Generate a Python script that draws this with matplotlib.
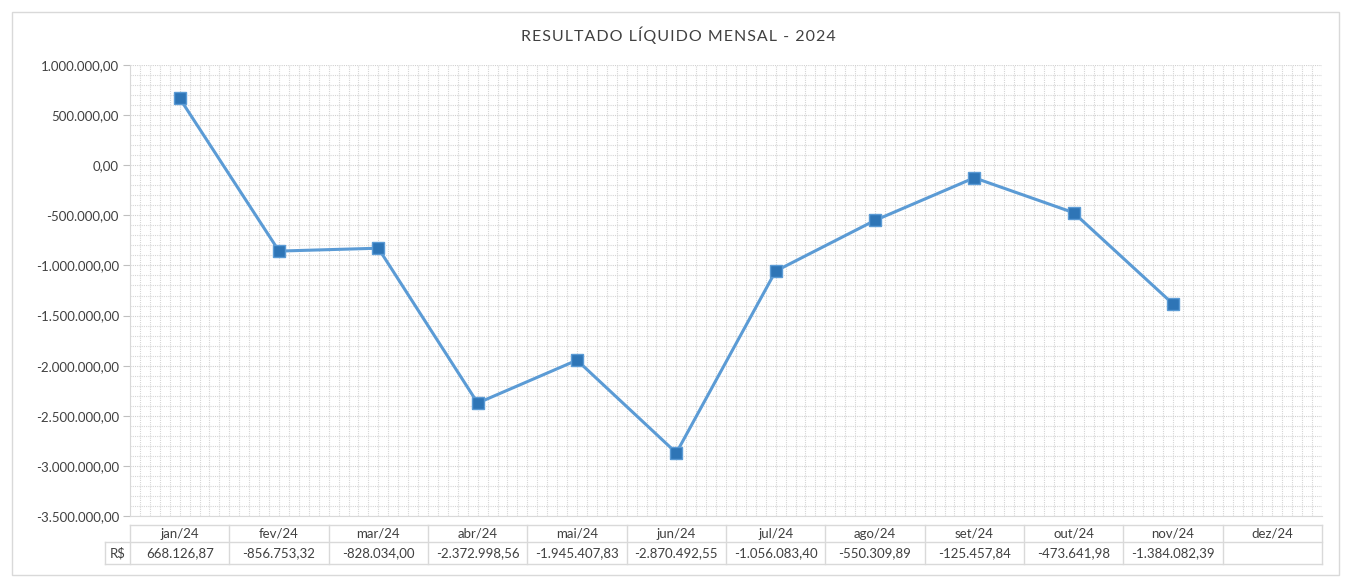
import matplotlib
matplotlib.use("Agg")
import matplotlib.pyplot as plt
import numpy as np
from matplotlib.ticker import FuncFormatter, MultipleLocator
from matplotlib.patches import Rectangle

months = ["jan/24", "fev/24", "mar/24", "abr/24", "mai/24", "jun/24",
          "jul/24", "ago/24", "set/24", "out/24", "nov/24", "dez/24"]
values = [668126.87, -856753.32, -828034.00, -2372998.56, -1945407.83, -2870492.55,
          -1056083.40, -550309.89, -125457.84, -473641.98, -1384082.39, None]
row_label = "R$"
title = "RESULTADO LÍQUIDO MENSAL - 2024"

FONT = ["Lato", "DejaVu Sans"]
plt.rcParams["font.family"] = FONT

def br(v, dec=2):
    s = f"{abs(v):,.{dec}f}"
    s = s.replace(",", "X").replace(".", ",").replace("X", ".")
    return ("-" if v < 0 else "") + s

W, H = 1349, 581
fig = plt.figure(figsize=(W / 100, H / 100), dpi=100)
fig.patch.set_facecolor("white")

# outer border
fig.add_artist(Rectangle((12 / W, 1 - 575 / H), (1339 - 12) / W, (575 - 12) / H,
                         transform=fig.transFigure, fill=False, edgecolor="#D9D9D9", lw=1))

left, right, top, bottom = 130, 1322, 65, 516
ax = fig.add_axes([left / W, 1 - bottom / H, (right - left) / W, (bottom - top) / H])

xs = [i for i, v in enumerate(values) if v is not None]
ys = [v for v in values if v is not None]
ax.plot(xs, ys, color="#5B9BD5", lw=2.2, zorder=3, solid_capstyle="round")
ax.plot(xs, ys, ls="none", marker="s", ms=8, mfc="#2E75B6", mec="#5B9BD5", mew=1.0, zorder=4)

ax.set_xlim(-0.5, len(months) - 0.5)
ax.set_ylim(-3500000, 1000000)
ax.yaxis.set_major_locator(MultipleLocator(500000))
ax.yaxis.set_minor_locator(MultipleLocator(100000))
ax.yaxis.set_major_formatter(FuncFormatter(lambda v, p: br(v)))
ax.set_xticks([])
ax.xaxis.set_minor_locator(MultipleLocator(0.1))

ax.grid(which="major", axis="y", color="#D0D0D0", lw=0.8, ls=(0, (1, 1)))
ax.grid(which="minor", axis="both", color="#D6D6D6", lw=0.8, ls=(0, (1, 1)))
ax.tick_params(axis="y", which="major", length=5, color="#BFBFBF", labelsize=9.5,
               labelcolor="#404040", pad=3)
ax.tick_params(axis="both", which="minor", length=0)
for s in ["top", "right"]:
    ax.spines[s].set_visible(False)
ax.spines["left"].set_color("#D9D9D9")
ax.spines["bottom"].set_color("#D9D9D9")
ax.set_axisbelow(True)

fig.text(678 / W, 1 - 35 / H, "\u200a".join(title), ha="center", va="center",
         fontsize=11.5, color="#404040", family=FONT)

# data table
def fx(px):
    return px / W
def fy(py):
    return 1 - py / H

cell_w = (right - left) / len(months)
t0, t1, t2 = 525, 542, 564
lc = "#D9D9D9"
def hline(y, x0, x1):
    fig.add_artist(plt.Line2D([fx(x0), fx(x1)], [fy(y), fy(y)], color=lc, lw=1,
                              transform=fig.transFigure))
def vline(xp, y0, y1):
    fig.add_artist(plt.Line2D([fx(xp), fx(xp)], [fy(y0), fy(y1)], color=lc, lw=1,
                              transform=fig.transFigure))
hline(t0, left, right)
hline(t1, 105, right)
hline(t2, 105, right)
vline(105, t1, t2)
for i in range(len(months) + 1):
    vline(left + i * cell_w, t0, t2)
for i, (m, v) in enumerate(zip(months, values)):
    cx = left + (i + 0.5) * cell_w
    fig.text(fx(cx), fy((t0 + t1) / 2), m, ha="center", va="center", fontsize=9.5, color="#404040")
    if v is not None:
        fig.text(fx(cx), fy((t1 + t2) / 2), br(v), ha="center", va="center", fontsize=9.5,
                 color="#404040")
fig.text(fx(117.5), fy((t1 + t2) / 2), row_label, ha="center", va="center", fontsize=9.5,
         color="#404040")

fig.savefig("out.png", dpi=100, facecolor="white")
